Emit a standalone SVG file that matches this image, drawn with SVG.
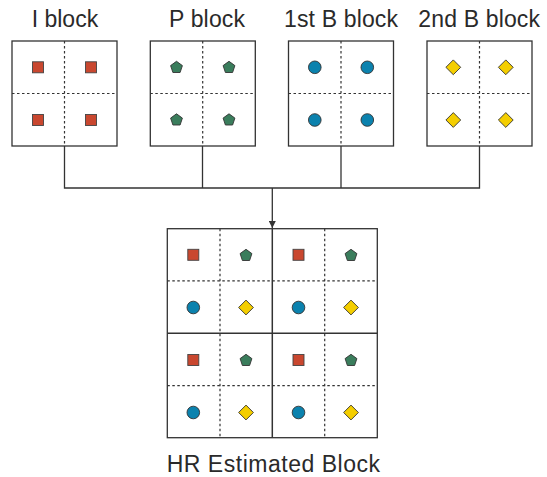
<svg xmlns="http://www.w3.org/2000/svg" xmlns:xlink="http://www.w3.org/1999/xlink" width="547" height="477" viewBox="0 0 547 477">
  <style>
    .frame { fill: #ffffff; stroke: #333333; stroke-width: 1.3; }
    .div { fill: none; stroke: #333333; stroke-width: 1.2; stroke-dasharray: 2.5 2.5; }
    .solid { fill: none; stroke: #333333; stroke-width: 1.5; }
    .wire { fill: none; stroke: #333333; stroke-width: 1.3; }
    .label { font-family: "Liberation Sans", Arial, Helvetica, sans-serif; font-size: 23px; fill: #2a2a2a; }
  </style>
  <defs>
    <rect id="sq" x="-5.5" y="-5.5" width="11" height="11" fill="#C9472F" stroke="#444" stroke-width="0.9"/>
    <polygon id="pent" points="0,-6.2 5.9,-1.9 3.6,5 -3.6,5 -5.9,-1.9" fill="#3A7D5C" stroke="#333" stroke-width="0.9"/>
    <circle id="circ" r="6.3" fill="#0B82AE" stroke="#333" stroke-width="0.9"/>
    <polygon id="dia" points="0,-7.4 7.4,0 0,7.4 -7.4,0" fill="#F4CE00" stroke="#333" stroke-width="0.9"/>
    <marker id="arrow" viewBox="0 0 10 10" refX="10" refY="5" markerWidth="7" markerHeight="7" markerUnits="userSpaceOnUse" orient="auto">
      <path d="M0,0 L10,5 L0,10 Z" fill="#333333"/>
    </marker>
  </defs>

  <!-- connectors -->
  <g id="connectors">
    <polyline class="wire" points="64.5,146 64.5,188 479.5,188 479.5,146"/>
    <line class="wire" x1="202.5" y1="146" x2="202.5" y2="188"/>
    <line class="wire" x1="341" y1="146" x2="341" y2="188"/>
    <line class="wire" x1="272.3" y1="188" x2="272.3" y2="228" marker-end="url(#arrow)"/>
  </g>

  <!-- I block -->
  <g id="i-block">
    <text class="label" x="31.7" y="27">I block</text>
    <rect class="frame" x="12" y="41" width="105" height="105"/>
    <line class="div" x1="64.5" y1="41" x2="64.5" y2="146"/>
    <line class="div" x1="12" y1="93.5" x2="117" y2="93.5"/>
    <use xlink:href="#sq" x="38" y="67.3"/>
    <use xlink:href="#sq" x="91" y="67.3"/>
    <use xlink:href="#sq" x="38" y="120"/>
    <use xlink:href="#sq" x="91" y="120"/>
  </g>

  <!-- P block -->
  <g id="p-block">
    <text class="label" x="169" y="27" textLength="76" lengthAdjust="spacing">P block</text>
    <rect class="frame" x="150.3" y="41" width="105" height="105"/>
    <line class="div" x1="202.7" y1="41" x2="202.7" y2="146"/>
    <line class="div" x1="150.3" y1="93.5" x2="255.3" y2="93.5"/>
    <use xlink:href="#pent" x="176.5" y="67.5"/>
    <use xlink:href="#pent" x="229" y="67.5"/>
    <use xlink:href="#pent" x="176.5" y="120"/>
    <use xlink:href="#pent" x="229" y="120"/>
  </g>

  <!-- 1st B block -->
  <g id="b1-block">
    <text class="label" x="284" y="27" textLength="114" lengthAdjust="spacing">1st B block</text>
    <rect class="frame" x="288.5" y="41" width="105" height="105"/>
    <line class="div" x1="341" y1="41" x2="341" y2="146"/>
    <line class="div" x1="288.5" y1="93.5" x2="393.5" y2="93.5"/>
    <use xlink:href="#circ" x="314.8" y="67.3"/>
    <use xlink:href="#circ" x="367.3" y="67.3"/>
    <use xlink:href="#circ" x="314.8" y="120"/>
    <use xlink:href="#circ" x="367.3" y="120"/>
  </g>

  <!-- 2nd B block -->
  <g id="b2-block">
    <text class="label" x="418.3" y="27" textLength="121.7" lengthAdjust="spacing">2nd B block</text>
    <rect class="frame" x="427" y="41" width="105" height="105"/>
    <line class="div" x1="479.5" y1="41" x2="479.5" y2="146"/>
    <line class="div" x1="427" y1="93.5" x2="532" y2="93.5"/>
    <use xlink:href="#dia" x="453.3" y="67.3"/>
    <use xlink:href="#dia" x="505.8" y="67.3"/>
    <use xlink:href="#dia" x="453.3" y="120"/>
    <use xlink:href="#dia" x="505.8" y="120"/>
  </g>

  <!-- HR estimated block -->
  <g id="hr-block">
    <rect class="frame" x="167.3" y="228.7" width="210" height="209"/>
    <line class="div" x1="220" y1="228.7" x2="220" y2="437.7"/>
    <line class="div" x1="324.7" y1="228.7" x2="324.7" y2="437.7"/>
    <line class="div" x1="167.3" y1="280.8" x2="377.3" y2="280.8"/>
    <line class="div" x1="167.3" y1="385.7" x2="377.3" y2="385.7"/>
    <line class="solid" x1="272.3" y1="228.7" x2="272.3" y2="437.7"/>
    <line class="solid" x1="167.3" y1="333.3" x2="377.3" y2="333.3"/>
    <use xlink:href="#sq" x="193.3" y="254.8"/>
    <use xlink:href="#pent" x="246" y="255.5"/>
    <use xlink:href="#circ" x="193.3" y="307.5"/>
    <use xlink:href="#dia" x="246" y="307.5"/>
    <use xlink:href="#sq" x="298.5" y="254.8"/>
    <use xlink:href="#pent" x="351" y="255.5"/>
    <use xlink:href="#circ" x="298.5" y="307.5"/>
    <use xlink:href="#dia" x="351" y="307.5"/>
    <use xlink:href="#sq" x="193.3" y="360"/>
    <use xlink:href="#pent" x="246" y="360.5"/>
    <use xlink:href="#circ" x="193.3" y="412.5"/>
    <use xlink:href="#dia" x="246" y="412.5"/>
    <use xlink:href="#sq" x="298.5" y="360"/>
    <use xlink:href="#pent" x="351" y="360.5"/>
    <use xlink:href="#circ" x="298.5" y="412.5"/>
    <use xlink:href="#dia" x="351" y="412.5"/>
    <text class="label" x="166.7" y="472.3" textLength="213.3" lengthAdjust="spacing">HR Estimated Block</text>
  </g>
</svg>
